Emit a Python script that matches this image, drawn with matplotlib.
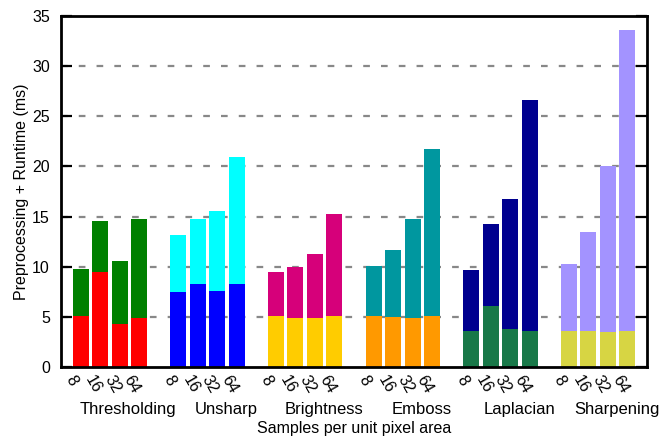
import matplotlib
matplotlib.use("Agg")
import matplotlib.pyplot as plt
import matplotlib.transforms as mtransforms

plt.rcParams['font.family'] = ['Liberation Sans', 'DejaVu Sans']

filters = ["Thresholding", "Unsharp", "Brightness", "Emboss", "Laplacian", "Sharpening"]
samples = ["8", "16", "32", "64"]

# lower segment (preprocessing) and total height (preprocessing + runtime), ms
preprocessing = [
    [5.1, 9.5, 4.3, 4.9],
    [7.5, 8.3, 7.6, 8.3],
    [5.1, 4.9, 4.9, 5.1],
    [5.1, 5.0, 4.9, 5.1],
    [3.6, 6.1, 3.8, 3.6],
    [3.6, 3.6, 3.5, 3.6],
]
total = [
    [9.8, 14.6, 10.6, 14.8],
    [13.2, 14.8, 15.6, 20.9],
    [9.5, 10.0, 11.3, 15.3],
    [10.1, 11.7, 14.8, 21.7],
    [9.7, 14.3, 16.8, 26.6],
    [10.3, 13.5, 20.0, 33.6],
]

lower_colors = ["#ff0000", "#0000ff", "#ffcc00", "#ff9900", "#187848", "#d7d543"]
upper_colors = ["#008000", "#00ffff", "#d6007a", "#00979f", "#00008f", "#a393ff"]

fig = plt.figure(figsize=(6.6, 4.41), dpi=100)
ax = fig.add_axes([61 / 660, 74 / 441, 586 / 660, 351 / 441])

bar_w = 0.82
xticks, xlabels = [], []
for g, name in enumerate(filters):
    xs = [5 * g + i for i in range(4)]
    pre = preprocessing[g]
    run = [t - p for t, p in zip(total[g], pre)]
    ax.bar(xs, pre, width=bar_w, color=lower_colors[g], zorder=2, linewidth=0)
    ax.bar(xs, run, bottom=pre, width=bar_w, color=upper_colors[g], zorder=2, linewidth=0)
    xticks += xs
    xlabels += samples
    ax.text(5 * g + 1.5 + 0.95, -0.12, name, transform=mtransforms.blended_transform_factory(ax.transData, ax.transAxes),
            ha="center", va="center", fontsize=12)

ax.set_xlim(-1, 29)
ax.set_ylim(0, 35)
ax.set_yticks(range(0, 36, 5))
ax.tick_params(axis="y", direction="in", length=8, width=1.6, labelsize=11.5, right=True, pad=8)
ax.set_xticks(xticks)
ax.set_xticklabels(xlabels, rotation=-60, ha="left", va="top", rotation_mode="anchor", fontsize=11.5)
ax.tick_params(axis="x", length=0, pad=4)
for lbl in ax.get_xticklabels():
    lbl.set_transform(lbl.get_transform() + mtransforms.ScaledTranslation(-5 / 100, 0, fig.dpi_scale_trans))

for y in range(5, 35, 5):
    ax.axhline(y, color="#888888", lw=1.6, ls=(0, (3, 5)), zorder=1)

for s in ax.spines.values():
    s.set_linewidth(2)
    s.set_zorder(3)

ax.set_ylabel("Preprocessing + Runtime (ms)", fontsize=11.5, labelpad=2)
fig.text(354 / 660, 1 - 428 / 441, "Samples per unit pixel area", ha="center", va="center", fontsize=11.5)

fig.savefig("out.png", dpi=100)
